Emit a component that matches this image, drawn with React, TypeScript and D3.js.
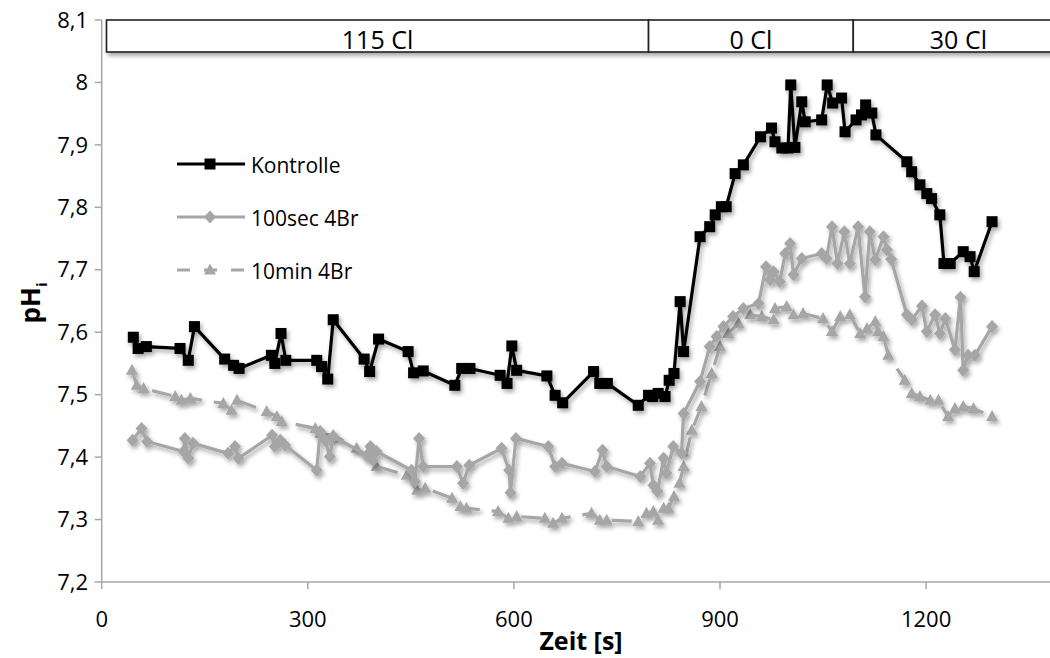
import React from "react";
import * as d3 from "d3";

// ---- data ----
const kontrolleT = [46, 53, 65, 114, 126, 135, 179, 192, 200, 247, 252, 261, 268, 313, 320, 329, 337, 382, 390, 403, 446, 454, 468, 514, 524, 536, 580, 590, 597, 604, 648, 660, 671, 716, 725, 736, 781, 796, 802, 810, 820, 826, 833, 842, 847, 871, 885, 893, 902, 909, 922, 934, 959, 975, 980, 990, 999, 1003, 1009, 1019, 1024, 1048, 1056, 1064, 1077, 1082, 1098, 1106, 1112, 1121, 1127, 1172, 1179, 1191, 1201, 1208, 1220, 1226, 1235, 1254, 1264, 1270, 1296];
const kontrolleV = [7.592, 7.574, 7.577, 7.574, 7.555, 7.609, 7.557, 7.547, 7.542, 7.563, 7.55, 7.598, 7.555, 7.555, 7.545, 7.525, 7.62, 7.557, 7.537, 7.589, 7.569, 7.535, 7.538, 7.515, 7.542, 7.542, 7.531, 7.518, 7.578, 7.539, 7.53, 7.499, 7.487, 7.537, 7.518, 7.518, 7.483, 7.499, 7.497, 7.502, 7.497, 7.523, 7.534, 7.649, 7.569, 7.753, 7.769, 7.788, 7.801, 7.801, 7.854, 7.868, 7.913, 7.927, 7.905, 7.895, 7.895, 7.996, 7.896, 7.969, 7.937, 7.94, 7.996, 7.967, 7.975, 7.921, 7.94, 7.948, 7.964, 7.951, 7.916, 7.873, 7.857, 7.836, 7.822, 7.814, 7.788, 7.71, 7.71, 7.729, 7.721, 7.697, 7.777];

const sec100T = [45, 58, 66, 119, 121, 126, 133, 184, 194, 199, 248, 252, 260, 267, 313, 318, 325, 332, 337, 386, 391, 395, 400, 451, 456, 462, 468, 517, 526, 535, 582, 593, 595, 603, 650, 660, 670, 718, 729, 735, 784, 798, 803, 809, 818, 822, 832, 844, 847, 871, 885, 895, 905, 919, 934, 956, 967, 973, 978, 987, 995, 1002, 1007, 1019, 1048, 1055, 1063, 1071, 1081, 1089, 1101, 1111, 1118, 1126, 1138, 1143, 1149, 1172, 1179, 1194, 1201, 1213, 1220, 1228, 1242, 1250, 1254, 1261, 1271, 1296];
const sec100V = [7.427, 7.446, 7.425, 7.409, 7.43, 7.398, 7.422, 7.406, 7.417, 7.398, 7.435, 7.417, 7.427, 7.419, 7.379, 7.441, 7.427, 7.401, 7.433, 7.403, 7.417, 7.395, 7.409, 7.379, 7.361, 7.43, 7.385, 7.385, 7.358, 7.387, 7.414, 7.379, 7.343, 7.43, 7.417, 7.385, 7.39, 7.377, 7.411, 7.385, 7.369, 7.39, 7.355, 7.345, 7.398, 7.374, 7.417, 7.406, 7.47, 7.521, 7.577, 7.593, 7.609, 7.625, 7.638, 7.646, 7.705, 7.684, 7.697, 7.681, 7.726, 7.742, 7.692, 7.718, 7.726, 7.718, 7.769, 7.71, 7.761, 7.71, 7.769, 7.657, 7.761, 7.716, 7.753, 7.732, 7.717, 7.628, 7.62, 7.642, 7.601, 7.628, 7.598, 7.622, 7.572, 7.656, 7.539, 7.563, 7.563, 7.609];

const min10T = [44, 51, 61, 107, 116, 129, 177, 189, 197, 240, 255, 262, 311, 318, 337, 371, 400, 444, 459, 471, 510, 522, 531, 577, 592, 604, 645, 657, 670, 713, 725, 735, 781, 793, 803, 810, 818, 825, 833, 841, 847, 859, 873, 888, 900, 912, 927, 944, 961, 978, 980, 997, 1007, 1021, 1050, 1063, 1075, 1089, 1104, 1114, 1126, 1130, 1138, 1145, 1169, 1179, 1191, 1206, 1218, 1232, 1242, 1254, 1269, 1296];
const min10V = [7.539, 7.515, 7.51, 7.497, 7.491, 7.494, 7.486, 7.475, 7.491, 7.473, 7.465, 7.457, 7.446, 7.438, 7.435, 7.414, 7.385, 7.371, 7.347, 7.35, 7.334, 7.321, 7.318, 7.313, 7.302, 7.305, 7.302, 7.294, 7.302, 7.31, 7.299, 7.299, 7.297, 7.31, 7.313, 7.299, 7.318, 7.318, 7.337, 7.358, 7.385, 7.443, 7.481, 7.534, 7.577, 7.598, 7.614, 7.628, 7.625, 7.62, 7.638, 7.641, 7.628, 7.63, 7.622, 7.601, 7.625, 7.628, 7.598, 7.606, 7.617, 7.601, 7.593, 7.563, 7.523, 7.502, 7.497, 7.491, 7.491, 7.465, 7.478, 7.481, 7.478, 7.465];

const seriesNames = ["Kontrolle", "100sec 4Br", "10min 4Br"];

const xTicks = [0, 300, 600, 900, 1200];
const yTicks = [7.2, 7.3, 7.4, 7.5, 7.6, 7.7, 7.8, 7.9, 8.0, 8.1];
const yTickLabels = ["7,2", "7,3", "7,4", "7,5", "7,6", "7,7", "7,8", "7,9", "8", "8,1"];

const bandLabels = ["115 Cl", "0 Cl", "30 Cl"];
const bandStarts = [7, 796, 1094];
const bandEnds = [796, 1094, 1400];

const FONT = "'Open Sans', 'Liberation Sans', sans-serif";
const GRAY = "#a6a6a6";

function Marker({ kind, cx, cy, color }: { kind: string; cx: number; cy: number; color: string }) {
  if (kind === "square") {
    return <rect x={cx - 5.5} y={cy - 5.5} width={11} height={11} fill={color} />;
  }
  if (kind === "diamond") {
    return <path d={`M${cx},${cy - 6.5}L${cx + 6},${cy}L${cx},${cy + 6.5}L${cx - 6},${cy}Z`} fill={color} />;
  }
  return <path d={`M${cx},${cy - 6.5}L${cx + 6},${cy + 4.5}L${cx - 6},${cy + 4.5}Z`} fill={color} />;
}

export default function App() {
  const W = 1050, H = 658;
  const x = d3.scaleLinear().domain([0, 1400]).range([101.7, 101.7 + 1400 * 0.687]);
  const y = d3.scaleLinear().domain([7.2, 8.1]).range([582, 20]);

  const series = [
    { name: seriesNames[0], t: kontrolleT, v: kontrolleV, color: "#000000", kind: "square", dash: undefined as string | undefined },
    { name: seriesNames[1], t: sec100T, v: sec100V, color: GRAY, kind: "diamond", dash: undefined },
    { name: seriesNames[2], t: min10T, v: min10V, color: GRAY, kind: "triangle", dash: "20,12" },
  ];

  const line = d3.line<[number, number]>().x((d) => x(d[0])).y((d) => y(d[1]));
  const x0 = x(0);
  const yBase = y(7.2);

  const legendY = [164, 217, 270];

  return (
    <div style={{ position: "fixed", left: 0, top: 0, width: W, height: H, background: "#fff" }}>
      <svg width={W} height={H} style={{ display: "block" }}>
        <defs>
          <filter id="sh" x="-10%" y="-10%" width="130%" height="130%">
            <feDropShadow dx="2" dy="3" stdDeviation="2" floodColor="#000" floodOpacity="0.35" />
          </filter>
        </defs>
        <rect width={W} height={H} fill="#fff" />

        {/* axes */}
        <line x1={x0} x2={x0} y1={y(8.1)} y2={yBase} stroke="#a6a6a6" strokeWidth={1.5} />
        <line x1={x0} x2={W} y1={yBase} y2={yBase} stroke="#a6a6a6" strokeWidth={1.5} />
        {yTicks.map((t, i) => (
          <g key={"yt" + i}>
            <line x1={x0 - 7} x2={x0} y1={y(t)} y2={y(t)} stroke="#a6a6a6" strokeWidth={1.5} />
            <text x={88} y={y(t)} dy="0.35em" textAnchor="end" fontFamily={FONT} fontSize={22} fill="#000">
              {yTickLabels[i]}
            </text>
          </g>
        ))}
        {xTicks.map((t) => (
          <g key={"xt" + t}>
            <line x1={x(t)} x2={x(t)} y1={yBase} y2={yBase + 7} stroke="#a6a6a6" strokeWidth={1.5} />
            <text x={x(t)} y={627} textAnchor="middle" fontFamily={FONT} fontSize={22} fill="#000">
              {t}
            </text>
          </g>
        ))}
        <text x={581} y={650} textAnchor="middle" fontFamily={FONT} fontSize={25} fontWeight="bold" fill="#000">
          Zeit [s]
        </text>
        <text transform="translate(40,303) rotate(-90)" textAnchor="middle" fontFamily={FONT} fontSize={26} fontWeight="bold" fill="#000">
          pH<tspan fontSize={15} dy={7}>i</tspan>
        </text>

        {/* condition band */}
        <g filter="url(#sh)">
          {bandLabels.map((lab, i) => (
            <rect key={"b" + i} x={x(bandStarts[i])} y={20} width={x(bandEnds[i]) - x(bandStarts[i])} height={32}
              fill="#fff" stroke="#222" strokeWidth={1.6} />
          ))}
        </g>
        {bandLabels.map((lab, i) => (
          <text key={"bl" + i} x={(x(bandStarts[i]) + x(bandEnds[i])) / 2} y={49} textAnchor="middle"
            fontFamily={FONT} fontSize={25} fill="#000">
            {lab}
          </text>
        ))}

        {/* series */}
        {series.slice().reverse().map((s) => {
          const pts = s.t.map((t, i) => [t, s.v[i]] as [number, number]);
          return (
            <g key={s.name} filter="url(#sh)">
              <path d={line(pts) || ""} fill="none" stroke={s.color} strokeWidth={3.2} strokeDasharray={s.dash} strokeLinejoin="round" />
              {pts.map((p, i) => (
                <Marker key={i} kind={s.kind} cx={x(p[0])} cy={y(p[1])} color={s.color} />
              ))}
            </g>
          );
        })}

        {/* legend */}
        {series.map((s, i) => (
          <g key={"lg" + i}>
            <line x1={177} x2={245} y1={legendY[i]} y2={legendY[i]} stroke={s.color} strokeWidth={3.2}
              strokeDasharray={s.dash ? "13,14" : undefined} />
            <Marker kind={s.kind} cx={210} cy={legendY[i]} color={s.color} />
            <text x={251} y={legendY[i] + 2} dy="0.35em" fontFamily={FONT} fontSize={21} fill="#000">
              {s.name}
            </text>
          </g>
        ))}
      </svg>
    </div>
  );
}
